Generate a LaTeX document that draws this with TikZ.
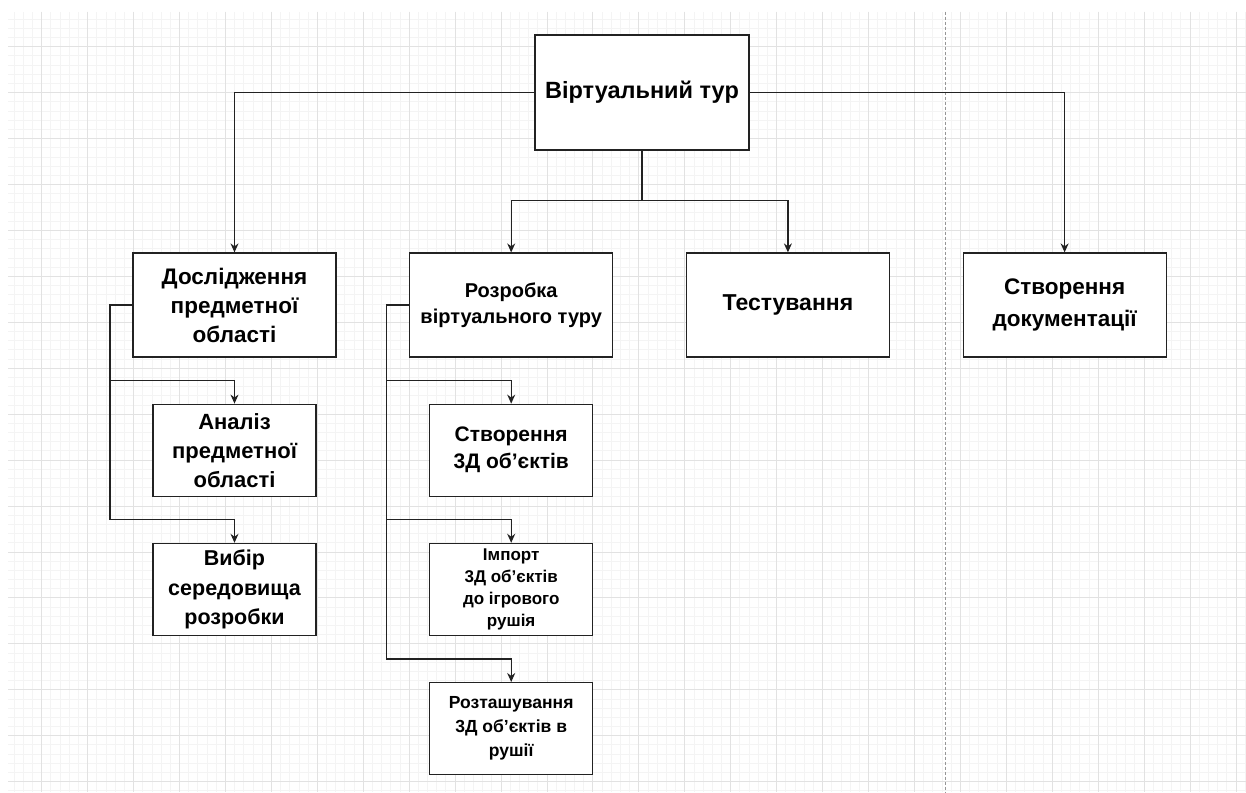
\documentclass[tikz,border=0pt]{standalone}
\usepackage{fontspec}
\setmainfont{Liberation Sans}
\usepackage{tikz}
\usetikzlibrary{positioning,arrows.meta}
\definecolor{lineclr}{RGB}{34,34,34}
\definecolor{gridminor}{RGB}{244,244,244}
\definecolor{gridmajor}{RGB}{226,226,226}
\definecolor{pagebrk}{RGB}{150,150,150}
\tikzset{
  topbox/.style={rectangle,draw=lineclr,line width=1.2pt,fill=white,
                 minimum width=203pt,minimum height=104pt,
                 align=center,inner sep=0pt},
  subbox/.style={topbox,minimum width=163pt,minimum height=92pt},
  link/.style={-{Stealth[length=9pt,width=8pt]},line width=1.2pt,draw=lineclr},
}
\newcommand{\fs}[2]{\fontsize{#1}{#2}\selectfont\bfseries}

\begin{document}
\begin{tikzpicture}[x=1pt,y=-1pt, node distance=46pt and 72.5pt]
\useasboundingbox (0,0) rectangle (1246,792);
% background grid
\foreach \i in {0,...,134}
  \draw[gridminor,line width=0.7pt] ({14.1+9.186*\i},11.7) -- ({14.1+9.186*\i},792);
\foreach \j in {0,...,84}
  \draw[gridminor,line width=0.7pt] (8.3,{19.1+9.186*\j}) -- (1246,{19.1+9.186*\j});
\foreach \i in {0,...,26}
  \draw[gridmajor,line width=0.8pt] ({41.7+45.93*\i},11.7) -- ({41.7+45.93*\i},792);
\foreach \j in {0,...,16}
  \draw[gridmajor,line width=0.8pt] (8.3,{46.7+45.93*\j}) -- (1246,{46.7+45.93*\j});
\draw[pagebrk, dash pattern=on 3pt off 2pt, line width=0.7pt] (945,11.7) -- (945,792);

\node[topbox, minimum width=214pt, minimum height=115pt, font=\fs{23.5}{28}] (tour) at (642,92.5)
  {Віртуальний тур};

\node[topbox, font=\fs{22.5}{29}] (research) at (234.5,305)
  {Дослідження\\предметної\\області};
\node[topbox, right=of research, font=\fs{20}{26}] (dev)
  {Розробка\\віртуального туру};
\node[topbox, right=of dev, font=\fs{23}{28}] (test) {Тестування};
\node[topbox, right=of test, font=\fs{22.5}{32}] (docs)
  {Створення\\документації};

\node[subbox, below=of research, font=\fs{22}{29}] (analysis)
  {Аналіз\\предметної\\області};
\node[subbox, below=of analysis, font=\fs{21.5}{29.5}] (choice)
  {Вибір\\середовища\\розробки};

\node[subbox, below=of dev, font=\fs{21}{27}] (model)
  {Створення\\3Д об’єктів};
\node[subbox, below=of model, font=\fs{17}{22}] (import)
  {Імпорт\\3Д об’єктів\\до ігрового\\рушія};
\node[subbox, below=of import, font=\fs{17.5}{24}] (place)
  {Розташування\\3Д об’єктів в\\рушії};

\draw[link] (tour.west) -| (research.north);
\draw[link] (tour.east) -| (docs.north);
\draw[link] (tour.south) -- ++(0,50) -| (dev.north);
\draw[link] (tour.south) -- ++(0,50) -| (test.north);

\draw[link] (research.west) -- ++(-22.5,0) |- ([yshift=23pt]analysis.north) -- (analysis.north);
\draw[link] (research.west) -- ++(-22.5,0) |- ([yshift=23pt]choice.north) -- (choice.north);

\draw[link] (dev.west) -- ++(-23,0) |- ([yshift=23pt]model.north) -- (model.north);
\draw[link] (dev.west) -- ++(-23,0) |- ([yshift=23pt]import.north) -- (import.north);
\draw[link] (dev.west) -- ++(-23,0) |- ([yshift=23pt]place.north) -- (place.north);
\end{tikzpicture}
\end{document}
